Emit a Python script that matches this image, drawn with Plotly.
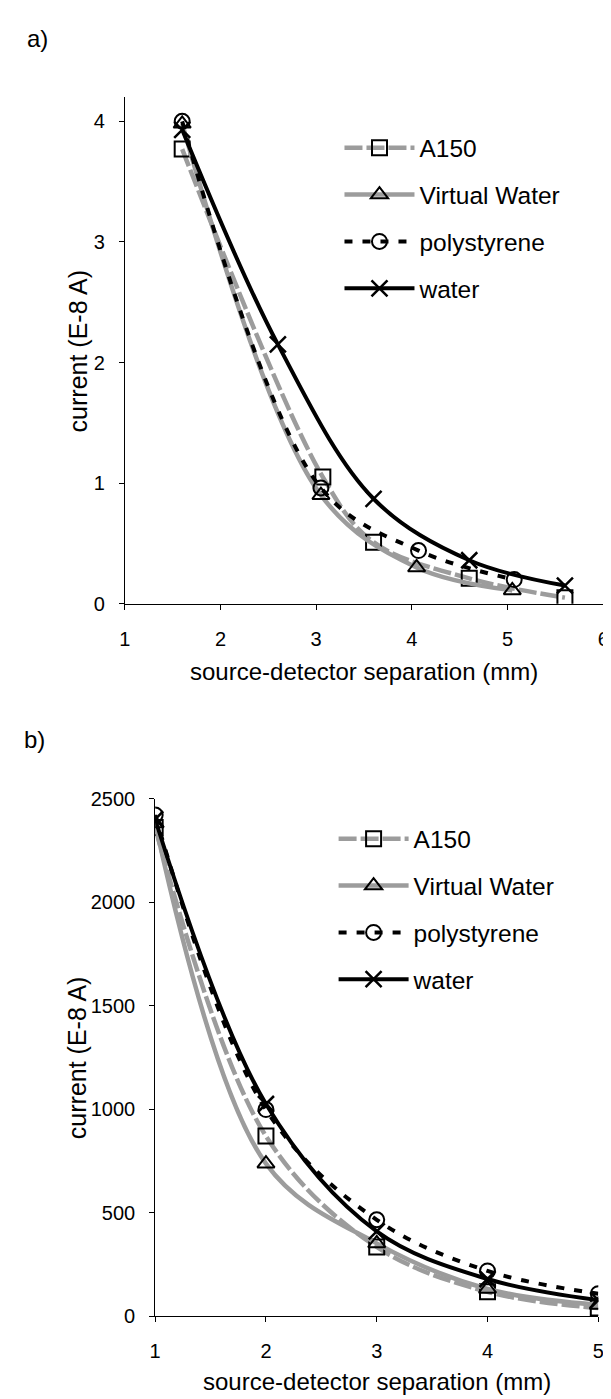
import plotly.graph_objects as go

# ---------------- data: panel a) ----------------
a_a150_x = [1.6, 3.07, 3.6, 4.6, 5.6]
a_a150_y = [3.77, 1.05, 0.51, 0.21, 0.05]
a_vw_x = [1.6, 3.05, 4.05, 5.05]
a_vw_y = [3.98, 0.90, 0.30, 0.11]
a_ps_x = [1.6, 3.05, 4.07, 5.07]
a_ps_y = [4.0, 0.96, 0.44, 0.20]
a_w_x = [1.6, 2.6, 3.6, 4.6, 5.6]
a_w_y = [3.93, 2.15, 0.87, 0.36, 0.15]

# ---------------- data: panel b) ----------------
b_x = [1, 2, 3, 4, 5]
b_a150 = [2360, 870, 335, 118, 40]
b_vw = [2380, 737, 352, 132, 55]
b_ps = [2420, 998, 466, 219, 109]
b_w = [2400, 1025, 410, 180, 78]

series_names = ["A150", "Virtual Water", "polystyrene", "water"]
a_x_ticks = [1, 2, 3, 4, 5, 6]
a_y_ticks = [0, 1, 2, 3, 4]
b_x_ticks = [1, 2, 3, 4, 5]
b_y_ticks = [0, 500, 1000, 1500, 2000, 2500]

W, H = 611, 1399
FONT = "Arial, Liberation Sans, sans-serif"
GREY = "#9c9c9c"

styles = {
    "A150": dict(line=dict(color=GREY, width=4.5, dash="18px,4px", shape="spline"),
                 marker=dict(symbol="square-open", size=15, color="black", line=dict(width=2))),
    "Virtual Water": dict(line=dict(color=GREY, width=4.5, shape="spline"),
                          marker=dict(symbol="triangle-up-open", size=15, color="black", line=dict(width=2))),
    "polystyrene": dict(line=dict(color="black", width=4, dash="8px,10px", shape="spline"),
                        marker=dict(symbol="circle-open", size=15, color="black", line=dict(width=2))),
    "water": dict(line=dict(color="black", width=4, shape="spline"),
                  marker=dict(symbol="x-thin-open", size=16, color="black", line=dict(width=2.5))),
}

fig = go.Figure()

a_data = {
    "A150": (a_a150_x, a_a150_y),
    "Virtual Water": (a_vw_x, a_vw_y),
    "polystyrene": (a_ps_x, a_ps_y),
    "water": (a_w_x, a_w_y),
}
b_data = {
    "A150": b_a150,
    "Virtual Water": b_vw,
    "polystyrene": b_ps,
    "water": b_w,
}

for name in series_names:
    xs, ys = a_data[name]
    fig.add_trace(go.Scatter(x=xs, y=ys, mode="lines+markers", name=name,
                             xaxis="x", yaxis="y", legend="legend",
                             legendgroup="a" + name, **styles[name]))
for name in series_names:
    fig.add_trace(go.Scatter(x=b_x, y=b_data[name], mode="lines+markers", name=name,
                             xaxis="x2", yaxis="y2", legend="legend2",
                             legendgroup="b" + name, **styles[name]))

def px_x(p):
    return p / W

def px_y(p):
    return 1 - p / H

axis_common = dict(showline=True, linecolor="black", linewidth=1, ticks="outside",
                   ticklen=5, tickcolor="black", showgrid=False, zeroline=False,
                   tickfont=dict(family=FONT, size=20, color="black"))

legend_common = dict(xanchor="left", yanchor="top",
                     font=dict(family=FONT, size=24.5, color="black"),
                     bgcolor="rgba(0,0,0,0)", itemwidth=70, tracegroupgap=12)

fig.update_layout(
    width=W, height=H,
    margin=dict(l=0, r=0, t=0, b=0),
    paper_bgcolor="white", plot_bgcolor="white",
    font=dict(family=FONT, color="black"),
    xaxis=dict(domain=[px_x(113), px_x(601)], range=[1, 6], tickvals=a_x_ticks,
               anchor="y", ticklabelstandoff=12, **axis_common),
    yaxis=dict(domain=[px_y(594), px_y(79.5)], range=[0, 4.2], tickvals=a_y_ticks,
               anchor="x", ticklabelstandoff=10, **axis_common),
    xaxis2=dict(domain=[px_x(144), px_x(596)], range=[1, 5], tickvals=b_x_ticks,
                anchor="y2", ticklabelstandoff=12, **axis_common),
    yaxis2=dict(domain=[px_y(1318), px_y(792)], range=[0, 2500], tickvals=b_y_ticks,
                anchor="x2", ticklabelstandoff=10, **axis_common),
    legend=dict(x=px_x(332), y=px_y(108), **legend_common),
    legend2=dict(x=px_x(326), y=px_y(810), **legend_common),
    showlegend=True,
)

annots = [
    dict(text="a)", x=px_x(24), y=px_y(20), size=24),
    dict(text="b)", x=px_x(21), y=px_y(732), size=24),
    dict(text="source-detector separation (mm)", x=px_x(357), y=px_y(663), size=24),
    dict(text="source-detector separation (mm)", x=px_x(370), y=px_y(1384), size=24),
    dict(text="current (E-8 A)", x=px_x(65), y=px_y(337), textangle=-90, size=25),
    dict(text="current (E-8 A)", x=px_x(65), y=px_y(1055), textangle=-90, size=25),
]
for a in annots:
    size = a.pop("size")
    fig.add_annotation(xref="paper", yref="paper", showarrow=False,
                       xanchor="center", yanchor="middle",
                       font=dict(family=FONT, size=size, color="black"), **a)

fig.write_html("out.html")
